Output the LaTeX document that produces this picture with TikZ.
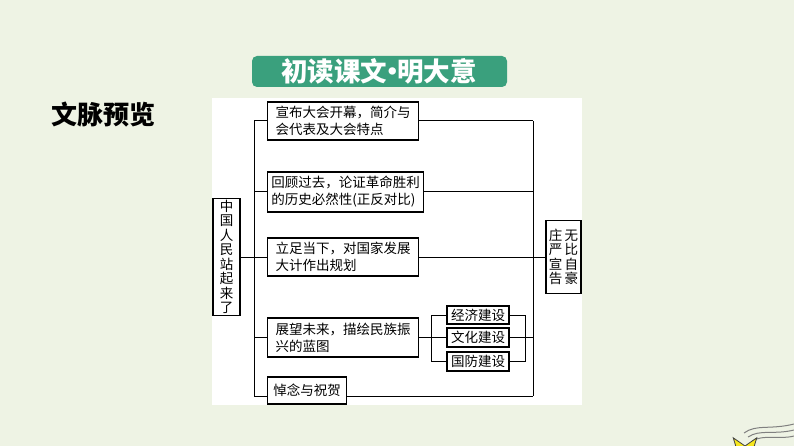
\documentclass[tikz,border=0pt]{standalone}
\usepackage{fontspec}
\newfontfamily\cjk{Noto Sans CJK SC}
\usetikzlibrary{calc}
\definecolor{bgcol}{RGB}{238,243,228}
\definecolor{bannercol}{RGB}{58,160,125}
\definecolor{stary}{RGB}{246,230,30}

\begin{document}
\begin{tikzpicture}[x=1pt,y=-1pt,
  tbox/.style={draw,line width=1.3pt,fill=white,align=left,inner sep=2pt,anchor=west,
    font=\cjk\fontsize{13.5}{17}\selectfont},
  vbox/.style={draw,line width=1.3pt,fill=white,align=center,inner sep=1pt,
    font=\cjk\fontsize{13.5}{14.5}\selectfont},
  sbox/.style={draw,line width=1.3pt,fill=white,inner sep=1pt,minimum width=62,
    font=\cjk\fontsize{13.5}{15}\selectfont},
  link/.style={line width=1pt}]
\useasboundingbox (0,0) rectangle (794,446);
\fill[bgcol] (0,0) rectangle (794,446);
\fill[white] (212,98) rectangle (582,405);
\fill[bannercol,rounded corners=5pt] (252,56) rectangle (507,87);
\node[text=white,font=\cjk\bfseries\fontsize{26.5}{26.5}\selectfont] (title) at (379,71.5) {初读课文\kern-0.32em•\kern-0.32em明大意};
\node[font=\cjk\bfseries\fontsize{26}{26}\selectfont] (head) at (103.5,115) {文脉预览};

\node[vbox,minimum width=27,minimum height=117] (root) at (226.5,257) {中\\国\\人\\民\\站\\起\\来\\了};
\node[tbox,minimum width=151,minimum height=38] (open) at (267,121) {宣布大会开幕，简介与\\会代表及大会特点};
\node[tbox,minimum width=156,minimum height=40] (review) at (267,192) {回顾过去，论证革命胜利\\的历史必然性(正反对比)};
\node[tbox,minimum width=151,minimum height=38] (now) at (267,257) {立足当下，对国家发展\\大计作出规划};
\node[tbox,minimum width=151,minimum height=39] (future) at (267,337.5) {展望未来，描绘民族振\\兴的蓝图};
\node[tbox,minimum width=79,minimum height=27] (wish) at (267,390.5) {悼念与祝贺};
\node[vbox,minimum width=35,minimum height=73] (proud) at (563.5,257) {庄\,无\\严\,比\\宣\,自\\告\,豪};
\node[sbox,minimum height=18] (econ) at (478,315) {经济建设};
\node[sbox,minimum height=19] (culture) at (478,337.5) {文化建设};
\node[sbox,minimum height=19] (defense) at (478,361.5) {国防建设};

\coordinate (ltop) at (254,121);
\coordinate (lbot) at (254,396);
\coordinate (rtop) at (533,121);
\coordinate (rbot) at (533,396);
\draw[link] (ltop) -- (lbot);
\draw[link] (rtop) -- (rbot);
\draw[link] (open.west) -- (ltop);
\draw[link] (open.east) -- (rtop);
\draw[link] (review.west) -- (review.west -| ltop);
\draw[link] (review.east) -- (review.east -| rtop);
\draw[link] (root.east) -- (now.west);
\draw[link] (now.east) -- (proud.west);
\draw[link] (future.west) -- (future.west -| ltop);
\draw[link] (future.east) -- (culture.west);
\draw[link] (econ.west) -- ++(-15,0) |- (defense.west);
\draw[link] (econ.east) -- ++(16,0) |- (defense.east);
\draw[link] (culture.east) -- (culture.east -| rtop);
\draw[link] (lbot) -- (wish.west |- lbot);
\draw[link] (wish.east |- rbot) -- (rbot);

\begin{scope}
\clip (0,0) rectangle (794,446);
\draw[gray,line width=1pt] (744,433) .. controls (756,424) and (770,430) .. (794,424);
\draw[gray,line width=1pt] (748,437) .. controls (760,429) and (774,435) .. (794,430);
\draw[gray,line width=1pt] (752,441) .. controls (764,434) and (778,440) .. (794,436);
\filldraw[fill=stary,draw=black!75,line width=0.8pt] (745,454) +(234:20) -- +(270:8) -- +(306:20) -- +(342:8) -- +(18:20)
  -- +(54:8) -- +(90:20) -- +(126:8) -- +(162:20) -- +(198:8) -- cycle;
\end{scope}
\end{tikzpicture}
\end{document}
